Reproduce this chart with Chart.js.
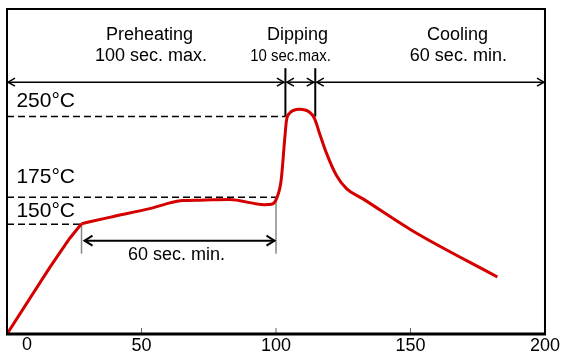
<!DOCTYPE html>
<html>
<head>
<meta charset="utf-8">
<script src="https://cdn.jsdelivr.net/npm/chart.js@4"></script>
<style>
  html, body { margin: 0; padding: 0; background: #fff; }
  #wrap { width: 563px; height: 354px; }
</style>
</head>
<body>
<div id="wrap"><canvas id="profile"></canvas></div>
<script>
// soldering profile, time (sec) vs temperature (°C)
const times = [0, 15.8, 23.2, 27.7, 38.1, 53, 65.2, 71.6, 82.7, 95.7, 98.3, 100.2, 101.9, 103.2, 103.9, 105, 108.7, 112.5, 114.3, 116.2, 118.8, 122.5, 126.2, 132.2, 150.7, 182.3];
const temps = [48, 109.5, 136.5, 150.5, 156.4, 164.5, 172, 172.4, 172.9, 168.2, 168.5, 173.8, 190.6, 227.9, 246.5, 253, 256.8, 254, 248.4, 234.4, 215.8, 195.2, 183.1, 173.8, 144, 101];
const kneeIndex = 3; // ramp is straight up to here, smooth after

const xTicks = [0, 50, 100, 150, 200];

// reference temperatures and how far their dashed line runs
const refTemps = [250, 175, 150];
const refEnds = [103.5, 100, 27.7];
const refLabels = ['250°C', '175°C', '150°C'];
const refLabelTemps = [264, 194, 162];

// zones across the top
const zoneEdges = [0, 103.5, 114.6, 200];
const zoneNames = ['Preheating', 'Dipping', 'Cooling'];
const zoneLimits = ['100 sec. max.', '10 sec.max.', '60 sec. min.'];
const zoneNameX = [53, 108, 167.5];
const zoneLimitX = [53.5, 105.4, 167.8];

// soak window
const soakStart = 27.7, soakEnd = 100;
const soakLabel = '60 sec. min.';

const FONT = '"Liberation Sans", Arial, sans-serif';
const RED = '#d40000';

function line(ctx, x1, y1, x2, y2) {
  ctx.beginPath();
  ctx.moveTo(x1, y1);
  ctx.lineTo(x2, y2);
  ctx.stroke();
}
function head(ctx, x, y, dir, len, w) {
  ctx.beginPath();
  ctx.moveTo(x - dir * len, y - w);
  ctx.lineTo(x, y);
  ctx.lineTo(x - dir * len, y + w);
  ctx.stroke();
}

const profileMarks = {
  id: 'profileMarks',
  beforeDatasetsDraw(chart) {
    const { ctx, chartArea: area, scales: { x, y } } = chart;
    const X = v => x.getPixelForValue(v);
    const Y = v => y.getPixelForValue(v);
    ctx.save();
    ctx.strokeStyle = '#000';
    ctx.fillStyle = '#000';

    // dashed temperature lines
    ctx.lineWidth = 1.5;
    ctx.setLineDash([7, 4]);
    refTemps.forEach((t, i) => line(ctx, area.left, Y(t), X(refEnds[i]), Y(t)));
    ctx.setLineDash([]);

    // temperature labels
    ctx.font = '21px ' + FONT;
    ctx.textAlign = 'left';
    ctx.textBaseline = 'middle';
    refLabels.forEach((s, i) => ctx.fillText(s, X(3.5), Y(refLabelTemps[i])));

    // zone arrows
    const ay = Y(282);
    ctx.lineWidth = 1.5;
    for (let i = 0; i < zoneNames.length; i++) {
      const x1 = i === 0 ? area.left + 1 : X(zoneEdges[i]) + 1.5;
      const x2 = i === zoneNames.length - 1 ? area.right - 1 : X(zoneEdges[i + 1]) - 1.5;
      line(ctx, x1, ay, x2, ay);
      head(ctx, x1, ay, -1, 7, 4);
      head(ctx, x2, ay, 1, 7, 4);
    }
    // dipping bounds
    ctx.lineWidth = 2;
    [zoneEdges[1], zoneEdges[2]].forEach(v => line(ctx, X(v), Y(250), X(v), Y(295)));

    // zone text
    ctx.textAlign = 'center';
    ctx.font = '18px ' + FONT;
    zoneNames.forEach((s, i) => ctx.fillText(s, X(zoneNameX[i]), Y(325.7)));
    zoneLimits.forEach((s, i) => {
      if (i === 1) {
        ctx.save();
        ctx.translate(X(zoneLimitX[i]), Y(306));
        ctx.scale(0.88, 1);
        ctx.font = '17px ' + FONT;
        ctx.fillText(s, 0, 0);
        ctx.restore();
      } else {
        ctx.fillText(s, X(zoneLimitX[i]), Y(306));
      }
    });

    // soak bracket
    ctx.strokeStyle = '#888';
    ctx.lineWidth = 1.5;
    line(ctx, X(soakStart), Y(150), X(soakStart), Y(122.6));
    line(ctx, X(soakEnd), Y(175), X(soakEnd), Y(122.6));
    ctx.strokeStyle = '#000';
    ctx.lineWidth = 2;
    const by = Y(134.7);
    const bx1 = X(soakStart) + 3, bx2 = X(soakEnd) - 1.5;
    line(ctx, bx1, by, bx2, by);
    head(ctx, bx1, by, -1, 8, 5);
    head(ctx, bx2, by, 1, 8, 5);
    ctx.font = '18px ' + FONT;
    ctx.fillText(soakLabel, X(63), Y(121.6));

    // inner tick marks
    ctx.strokeStyle = '#666';
    ctx.lineWidth = 1;
    xTicks.slice(1, -1).forEach(v => line(ctx, X(v), area.bottom, X(v), area.bottom - 6));

    // first tick label sits off its tick
    ctx.fillStyle = '#000';
    ctx.fillText(String(xTicks[0]), X(xTicks[0]) + 20, area.bottom + 11);
    ctx.restore();
  },
  afterDatasetsDraw(chart) {
    const { ctx, chartArea: area } = chart;
    ctx.save();
    ctx.strokeStyle = '#000';
    ctx.lineWidth = 2;
    ctx.strokeRect(area.left, area.top, area.right - area.left, area.bottom - area.top);
    ctx.lineWidth = 3;
    line(ctx, area.left - 1, area.bottom, area.right + 1, area.bottom);
    ctx.restore();
  }
};

const points = times.map((t, i) => ({ x: t, y: temps[i] }));

const ctx = document.getElementById('profile').getContext('2d');
new Chart(ctx, {
  type: 'line',
  data: {
    datasets: [{
      data: points.slice(0, kneeIndex + 1),
      borderColor: RED,
      borderWidth: 3,
      pointRadius: 0,
      tension: 0,
      fill: false
    }, {
      data: points.slice(kneeIndex),
      borderColor: RED,
      borderWidth: 3,
      pointRadius: 0,
      cubicInterpolationMode: 'monotone',
      fill: false
    }]
  },
  plugins: [profileMarks],
  options: {
    responsive: true,
    maintainAspectRatio: false,
    animation: false,
    devicePixelRatio: 1,
    layout: { padding: { top: 9, left: 7, right: 0, bottom: -4 } },
    plugins: {
      legend: { display: false },
      tooltip: { enabled: false }
    },
    scales: {
      x: {
        type: 'linear',
        min: 0,
        max: 200,
        afterBuildTicks: scale => { scale.ticks = xTicks.map(v => ({ value: v })); },
        ticks: {
          callback: v => (v === xTicks[0] ? '' : String(v)),
          font: { family: FONT, size: 18, lineHeight: 1 },
          color: '#000',
          padding: 3,
          maxRotation: 0,
          autoSkip: false
        },
        grid: { display: false, drawTicks: false },
        border: { display: false }
      },
      y: {
        display: false,
        min: 48,
        max: 350
      }
    }
  }
});
</script>
</body>
</html>
